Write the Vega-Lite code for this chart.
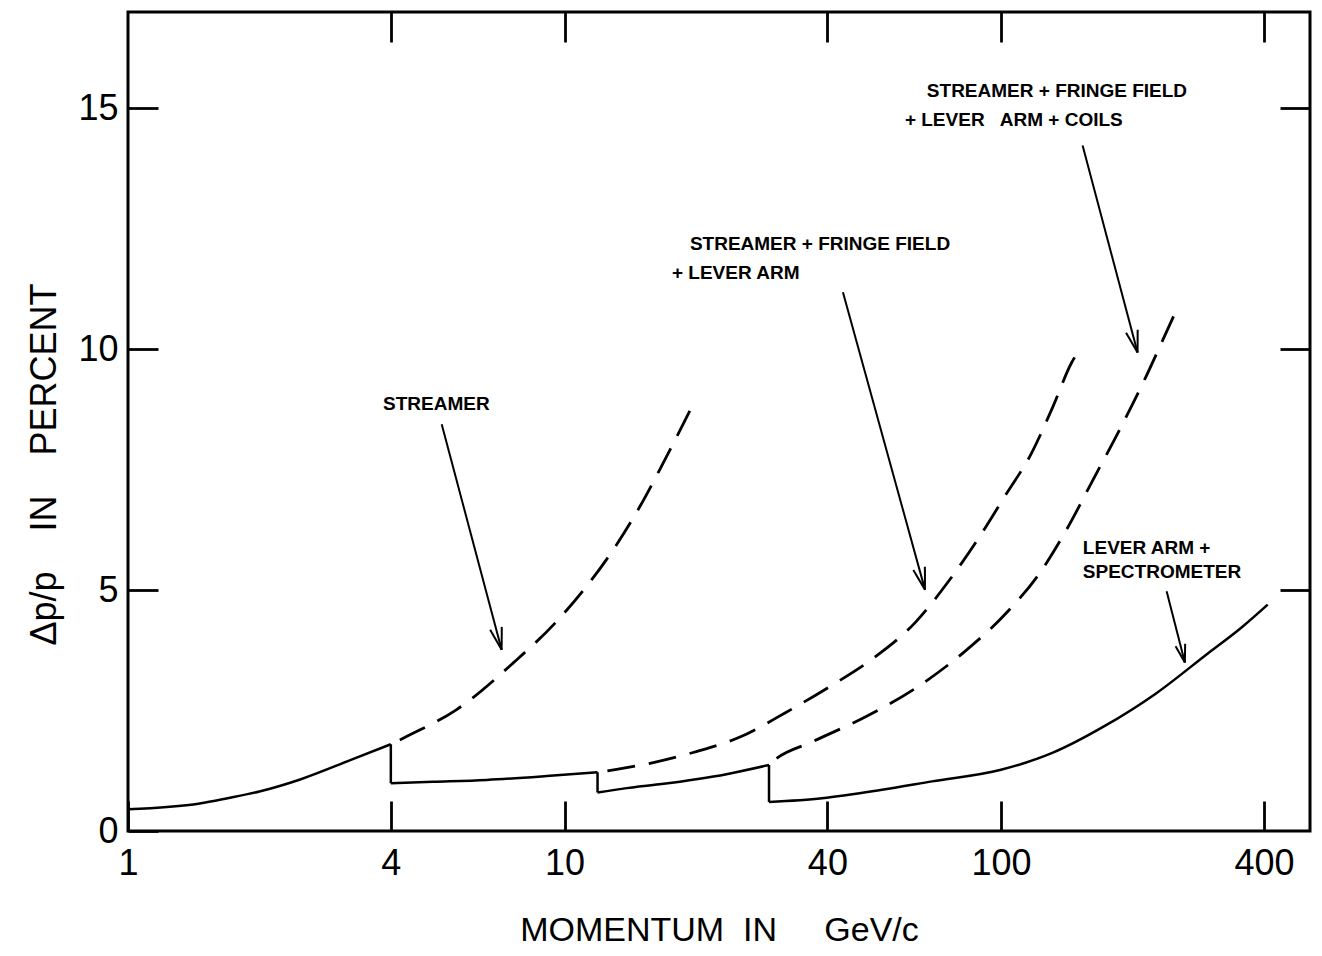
{
  "$schema": "https://vega.github.io/schema/vega-lite/v6.json",
  "width": 1182,
  "height": 819,
  "autosize": {"type": "none"},
  "padding": {"left": 128, "top": 12, "right": 12, "bottom": 125},
  "background": "white",
  "config": {
    "view": {"stroke": "black", "strokeWidth": 3},
    "font": "Liberation Sans",
    "axis": {"domain": false, "grid": false, "tickColor": "black", "tickWidth": 2.8, "labelColor": "black", "titleColor": "black", "labelFont": "Liberation Sans", "titleFont": "Liberation Sans", "labelFontWeight": "normal", "titleFontWeight": "normal"}
  },
  "datasets": {
    "solid": [
      {"seg": "A", "i": 1, "p": 1, "v": 0.45},
      {"seg": "A", "i": 2, "p": 1.46, "v": 0.57},
      {"seg": "A", "i": 3, "p": 1.69, "v": 0.68},
      {"seg": "A", "i": 4, "p": 2.0, "v": 0.82},
      {"seg": "A", "i": 5, "p": 2.48, "v": 1.07},
      {"seg": "A", "i": 6, "p": 3.23, "v": 1.47},
      {"seg": "A", "i": 7, "p": 4, "v": 1.80},
      {"seg": "d1", "i": 1, "p": 4, "v": 1.80},
      {"seg": "d1", "i": 2, "p": 4, "v": 0.99},
      {"seg": "B", "i": 1, "p": 4, "v": 0.99},
      {"seg": "B", "i": 2, "p": 5, "v": 1.02},
      {"seg": "B", "i": 3, "p": 6.63, "v": 1.06},
      {"seg": "B", "i": 4, "p": 9.1, "v": 1.14},
      {"seg": "B", "i": 5, "p": 11.9, "v": 1.22},
      {"seg": "d2", "i": 1, "p": 11.9, "v": 1.22},
      {"seg": "d2", "i": 2, "p": 11.9, "v": 0.80},
      {"seg": "C", "i": 1, "p": 11.9, "v": 0.80},
      {"seg": "C", "i": 2, "p": 13.9, "v": 0.89},
      {"seg": "C", "i": 3, "p": 16.5, "v": 0.97},
      {"seg": "C", "i": 4, "p": 23.5, "v": 1.18},
      {"seg": "C", "i": 5, "p": 29.4, "v": 1.37},
      {"seg": "d3", "i": 1, "p": 29.4, "v": 1.37},
      {"seg": "d3", "i": 2, "p": 29.4, "v": 0.60},
      {"seg": "D", "i": 1, "p": 29.4, "v": 0.60},
      {"seg": "D", "i": 2, "p": 38.9, "v": 0.68},
      {"seg": "D", "i": 3, "p": 52.9, "v": 0.85},
      {"seg": "D", "i": 4, "p": 69.5, "v": 1.03},
      {"seg": "D", "i": 5, "p": 99.9, "v": 1.27},
      {"seg": "D", "i": 6, "p": 131, "v": 1.62},
      {"seg": "D", "i": 7, "p": 172, "v": 2.17},
      {"seg": "D", "i": 8, "p": 226, "v": 2.85},
      {"seg": "D", "i": 9, "p": 297, "v": 3.68},
      {"seg": "D", "i": 10, "p": 356, "v": 4.23},
      {"seg": "D", "i": 11, "p": 408, "v": 4.70}
    ],
    "dashed": [
      {"series": "E", "i": 1, "p": 4, "v": 1.80},
      {"series": "E", "i": 2, "p": 4.39, "v": 1.98},
      {"series": "E", "i": 3, "p": 5.66, "v": 2.52},
      {"series": "E", "i": 4, "p": 7.63, "v": 3.49},
      {"series": "E", "i": 5, "p": 9.59, "v": 4.35},
      {"series": "E", "i": 6, "p": 11.23, "v": 5.08},
      {"series": "E", "i": 7, "p": 12.93, "v": 5.84},
      {"series": "E", "i": 8, "p": 14.89, "v": 6.74},
      {"series": "E", "i": 9, "p": 16.83, "v": 7.64},
      {"series": "E", "i": 10, "p": 19.71, "v": 8.86},
      {"series": "F", "i": 1, "p": 11.9, "v": 1.22},
      {"series": "F", "i": 2, "p": 13.16, "v": 1.28},
      {"series": "F", "i": 3, "p": 15.97, "v": 1.42},
      {"series": "F", "i": 4, "p": 19.71, "v": 1.63},
      {"series": "F", "i": 5, "p": 25.22, "v": 1.95},
      {"series": "F", "i": 6, "p": 31.98, "v": 2.45},
      {"series": "F", "i": 7, "p": 40.54, "v": 3.00},
      {"series": "F", "i": 8, "p": 50.51, "v": 3.56},
      {"series": "F", "i": 9, "p": 63.47, "v": 4.32},
      {"series": "F", "i": 10, "p": 76.31, "v": 5.22},
      {"series": "F", "i": 11, "p": 89.42, "v": 6.12},
      {"series": "F", "i": 12, "p": 102.0, "v": 6.95},
      {"series": "F", "i": 13, "p": 117.5, "v": 7.85},
      {"series": "F", "i": 14, "p": 131.6, "v": 8.82},
      {"series": "F", "i": 15, "p": 145.0, "v": 9.72},
      {"series": "F", "i": 16, "p": 148.9, "v": 9.90},
      {"series": "G", "i": 1, "p": 29.4, "v": 1.37},
      {"series": "G", "i": 2, "p": 30.06, "v": 1.45},
      {"series": "G", "i": 3, "p": 37.13, "v": 1.86},
      {"series": "G", "i": 4, "p": 49.2, "v": 2.38},
      {"series": "G", "i": 5, "p": 66.3, "v": 3.07},
      {"series": "G", "i": 6, "p": 83.4, "v": 3.76},
      {"series": "G", "i": 7, "p": 102.9, "v": 4.53},
      {"series": "G", "i": 8, "p": 122.7, "v": 5.36},
      {"series": "G", "i": 9, "p": 141.3, "v": 6.26},
      {"series": "G", "i": 10, "p": 162.6, "v": 7.30},
      {"series": "G", "i": 11, "p": 187.1, "v": 8.34},
      {"series": "G", "i": 12, "p": 211.6, "v": 9.31},
      {"series": "G", "i": 13, "p": 235.1, "v": 10.21},
      {"series": "G", "i": 14, "p": 255.8, "v": 10.94}
    ],
    "arrows": [
      {"p": 5.231, "v": 8.441, "p2": 7.176, "v2": 3.763},
      {"p": 7.176, "v": 3.763, "p2": 7.181, "v2": 4.237},
      {"p": 7.176, "v": 3.763, "p2": 6.754, "v2": 4.175},
      {"p": 43.42, "v": 11.185, "p2": 66.93, "v2": 5.010},
      {"p": 66.93, "v": 5.010, "p2": 66.90, "v2": 5.484},
      {"p": 66.93, "v": 5.010, "p2": 62.93, "v2": 5.418},
      {"p": 153.7, "v": 14.227, "p2": 205.4, "v2": 9.931},
      {"p": 205.4, "v": 9.931, "p2": 205.5, "v2": 10.405},
      {"p": 205.4, "v": 9.931, "p2": 193.3, "v2": 10.343},
      {"p": 239.4, "v": 4.975, "p2": 263.6, "v2": 3.499},
      {"p": 263.6, "v": 3.499, "p2": 264.0, "v2": 3.888},
      {"p": 263.6, "v": 3.499, "p2": 251.0, "v2": 3.836}
    ],
    "labels": [
      {"label": "STREAMER", "p": 3.84, "v": 8.86},
      {"label": "STREAMER + FRINGE FIELD", "p": 19.37, "v": 12.18},
      {"label": "+ LEVER ARM", "p": 17.62, "v": 11.58},
      {"label": "STREAMER + FRINGE FIELD", "p": 67.6, "v": 15.36},
      {"label": "+ LEVER\u00a0\u00a0 ARM + COILS", "p": 60.2, "v": 14.76},
      {"label": "LEVER ARM +", "p": 153.9, "v": 5.88},
      {"label": "SPECTROMETER", "p": 153.9, "v": 5.38}
    ]
  },
  "resolve": {"axis": {"x": "independent", "y": "independent"}},
  "layer": [
    {
      "data": {"name": "solid"},
      "mark": {"type": "line", "color": "black", "strokeWidth": 2.5, "interpolate": "monotone"},
      "encoding": {
        "x": {"field": "p", "type": "quantitative", "scale": {"type": "log", "domain": [1, 510], "nice": false},
          "axis": {"orient": "bottom", "values": [1, 4, 10, 40, 100, 400], "format": "d", "tickSize": -30, "labelFontSize": 36, "labelPadding": 45, "labelFlush": false, "labelOverlap": false, "title": "MOMENTUM\u00a0\u00a0IN\u00a0\u00a0\u00a0\u00a0\u00a0GeV/c", "titleFontSize": 34, "titlePadding": 32}},
        "y": {"field": "v", "type": "quantitative", "scale": {"domain": [0, 17], "nice": false},
          "axis": {"orient": "left", "values": [0, 5, 10, 15], "tickSize": -30, "labelFontSize": 36, "labelPadding": 40, "title": "\u0394p/p\u00a0\u00a0\u00a0\u00a0IN\u00a0\u00a0\u00a0\u00a0PERCENT", "titleFontSize": 36, "titlePadding": 14, "titleY": 452}},
        "detail": {"field": "seg"},
        "order": {"field": "i", "type": "quantitative"}
      }
    },
    {
      "data": {"name": "dashed"},
      "mark": {"type": "line", "color": "black", "strokeWidth": 2.8, "strokeDash": [28, 14], "strokeDashOffset": 32, "interpolate": "monotone"},
      "encoding": {
        "x": {"field": "p", "type": "quantitative", "scale": {"type": "log", "domain": [1, 510], "nice": false},
          "axis": {"orient": "top", "values": [4, 10, 40, 100, 400], "tickSize": -30, "labels": false, "title": null}},
        "y": {"field": "v", "type": "quantitative", "scale": {"domain": [0, 17], "nice": false},
          "axis": {"orient": "right", "values": [5, 10, 15], "tickSize": -30, "labels": false, "title": null}},
        "detail": {"field": "series"},
        "order": {"field": "i", "type": "quantitative"}
      }
    },
    {
      "data": {"name": "arrows"},
      "mark": {"type": "rule", "color": "black", "strokeWidth": 2},
      "encoding": {
        "x": {"field": "p", "type": "quantitative", "scale": {"type": "log", "domain": [1, 510], "nice": false}, "axis": null},
        "y": {"field": "v", "type": "quantitative", "scale": {"domain": [0, 17], "nice": false}, "axis": null},
        "x2": {"field": "p2"},
        "y2": {"field": "v2"}
      }
    },
    {
      "data": {"name": "labels"},
      "mark": {"type": "text", "align": "left", "baseline": "middle", "fontSize": 19, "fontWeight": "bold", "font": "Liberation Sans", "color": "black"},
      "encoding": {
        "x": {"field": "p", "type": "quantitative", "scale": {"type": "log", "domain": [1, 510], "nice": false}, "axis": null},
        "y": {"field": "v", "type": "quantitative", "scale": {"domain": [0, 17], "nice": false}, "axis": null},
        "text": {"field": "label"}
      }
    }
  ]
}
